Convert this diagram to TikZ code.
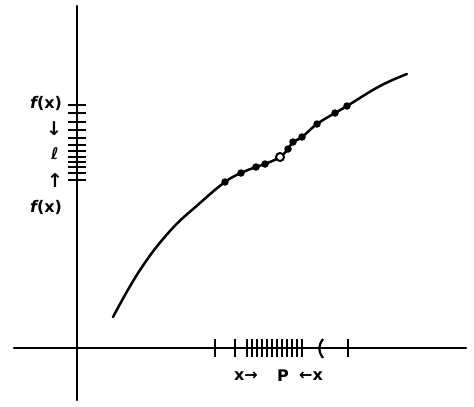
\documentclass[tikz,border=0pt]{standalone}
\usepackage{fontspec}
\newfontfamily\handfont{DejaVu Sans}
\begin{document}
\begin{tikzpicture}[x=1pt,y=-1pt,
  axis/.style={line width=2.6pt,line cap=round},
  tk/.style={line width=2.2pt},
  curve/.style={line width=2.5pt,line cap=round,line join=round},
  dot/.style={circle,fill=black,inner sep=0pt,minimum size=7.5pt},
  odot/.style={circle,draw=black,fill=white,line width=2pt,inner sep=0pt,minimum size=8pt},
  lab/.style={inner sep=0pt,font=\handfont\fontsize{16}{16}\selectfont\bfseries},
  arr/.style={inner sep=0pt,font=\handfont\fontsize{19}{19}\selectfont\bfseries}]
\useasboundingbox (0,0) rectangle (474,407);
% axes
\coordinate (yt) at (77,6);
\coordinate (yb) at (77,400);
\coordinate (xl) at (14,348);
\coordinate (xr) at (466,348);
\draw[axis] (yt) -- (yb);
\draw[axis] (xl) -- (xr);
% curve
\draw[curve] plot[smooth,tension=0.7] coordinates {(113,317) (140,270) (170,231) (200,203) (225,182) (241,173) (256,167) (265,164) (280,157) (288,149) (293,142) (302,137) (317,124) (335,113) (347,106) (380,86) (407,74)};
% dots on curve
\foreach \p [count=\i] in {(225,182),(241,173),(256,167),(265,164),(288,149),(293,142),(302,137),(317,124),(335,113),(347,106)}
  \node[dot] (d\i) at \p {};
\node[odot] (P) at (280,157) {};
% x-axis ticks
\foreach \x in {215,235,247,252,257,262,267,272,277,282,287,292,297,302}
  \draw[tk] (\x,339) -- (\x,357);
\draw[tk] (323,339) .. controls (318,346) and (318,351) .. (323,358);
\draw[tk] (348,339) -- (348,357);
% y-axis ticks
\foreach \y in {105,113,122,130,138,145,151,157,162,167,173,180}
  \draw[tk] (68,\y) -- (86,\y);
% labels on y side
\node[lab] (fx1) at (46,103) {\itshape f\upshape(x)};
\node[arr] (a1) at (54,129) {↓};
\node[lab] (l) at (55,154) {ℓ};
\node[arr] (a2) at (55,181) {↑};
\node[lab] (fx2) at (46,207) {\itshape f\upshape(x)};
% labels on x side
\node[lab] (x1) at (246,376) {x→};
\node[lab] (p) at (283,376) {P};
\node[lab] (x2) at (311,376) {←x};
\end{tikzpicture}
\end{document}
